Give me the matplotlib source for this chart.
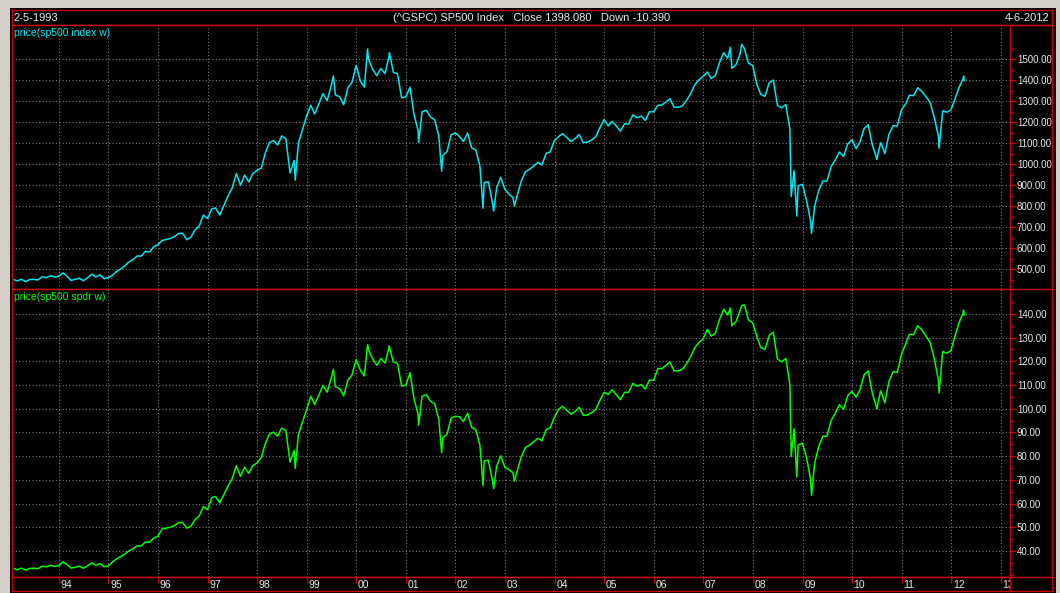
import pandas as pd
import matplotlib.pyplot as plt
import matplotlib.dates as mdates
from matplotlib.lines import Line2D
from matplotlib.patches import Rectangle
from matplotlib.ticker import FixedLocator, FormatStrFormatter

# monthly closes, Feb 1993 .. Mar 2012
spx_monthly = [
    443.38, 451.67, 440.19, 450.19, 450.53, 448.13, 463.56, 458.93, 467.83, 461.79, 466.45,
    481.61, 467.14, 445.77, 450.91, 456.50, 444.27, 458.26, 475.49, 462.69, 472.35, 453.69, 459.27,
    470.42, 487.39, 500.71, 514.71, 533.40, 544.75, 562.06, 561.88, 584.41, 581.50, 605.37, 615.93,
    636.02, 640.43, 645.50, 654.17, 669.12, 670.63, 639.95, 651.99, 687.33, 705.27, 757.02, 740.74,
    786.16, 790.82, 757.12, 801.34, 848.28, 885.14, 954.31, 899.47, 947.28, 914.62, 955.40, 970.43,
    980.28, 1049.34, 1101.75, 1111.75, 1090.82, 1133.84, 1120.67, 957.28, 1017.01, 1098.67, 1163.63, 1229.23,
    1279.64, 1238.33, 1286.37, 1335.18, 1301.84, 1372.71, 1328.72, 1320.41, 1282.71, 1362.93, 1388.91, 1469.25,
    1394.46, 1366.42, 1498.58, 1452.43, 1420.60, 1454.60, 1430.83, 1517.68, 1436.51, 1429.40, 1314.95, 1320.28,
    1366.01, 1239.94, 1160.33, 1249.46, 1255.82, 1224.38, 1211.23, 1133.58, 1040.94, 1059.78, 1139.45, 1148.08,
    1130.20, 1106.73, 1147.39, 1076.92, 1067.14, 989.82, 911.62, 916.07, 815.28, 885.76, 936.31, 879.82,
    855.70, 841.15, 848.18, 916.92, 963.59, 974.50, 990.31, 1008.01, 995.97, 1050.71, 1058.20, 1111.92,
    1131.13, 1144.94, 1126.21, 1107.30, 1120.68, 1140.84, 1101.72, 1104.24, 1114.58, 1130.20, 1173.82, 1211.92,
    1181.27, 1203.60, 1180.59, 1156.85, 1191.50, 1191.33, 1234.18, 1220.33, 1228.81, 1207.01, 1249.48, 1248.29,
    1280.08, 1280.66, 1294.83, 1310.61, 1270.09, 1270.20, 1276.66, 1303.82, 1335.85, 1377.94, 1400.63, 1418.30,
    1438.24, 1406.82, 1420.86, 1482.37, 1530.62, 1503.35, 1455.27, 1473.99, 1526.75, 1549.38, 1481.14, 1468.36,
    1378.55, 1330.63, 1322.70, 1385.59, 1400.38, 1280.00, 1267.38, 1282.83, 1166.36, 968.75, 896.24, 903.25,
    825.88, 735.09, 797.87, 872.81, 919.14, 919.32, 987.48, 1020.62, 1057.08, 1036.19, 1095.63, 1115.10,
    1073.87, 1104.49, 1169.43, 1186.69, 1089.41, 1030.71, 1101.60, 1049.33, 1141.20, 1183.26, 1180.55, 1257.64,
    1286.12, 1327.22, 1325.83, 1363.61, 1345.20, 1320.64, 1292.28, 1218.89, 1131.42, 1253.30, 1246.96, 1257.60,
    1312.41, 1365.68, 1408.47,
]
spy_monthly = [
    32.1, 32.7, 31.9, 32.6, 32.7, 32.5, 33.6, 33.3, 33.9, 33.5, 33.8,
    35.4, 34.3, 32.8, 33.1, 33.6, 32.7, 33.7, 34.9, 34.0, 34.7, 33.3, 33.8,
    35.3, 36.6, 37.6, 38.6, 40.0, 40.9, 42.2, 42.1, 43.8, 43.6, 45.4, 46.2,
    49.3, 49.6, 50.0, 50.7, 51.9, 52.0, 49.6, 50.5, 53.3, 54.7, 58.7, 57.4,
    62.5, 62.9, 60.2, 63.7, 67.4, 70.4, 75.9, 71.5, 75.3, 72.7, 76.0, 77.1,
    79.4, 85.0, 89.2, 90.1, 88.4, 91.8, 90.8, 77.5, 82.4, 89.0, 94.3, 99.6,
    105.2, 101.8, 105.7, 109.8, 107.0, 112.8, 109.2, 108.5, 105.4, 112.0, 114.2, 120.8,
    116.2, 113.8, 124.8, 121.0, 118.3, 121.2, 119.2, 126.4, 119.7, 119.1, 109.5, 110.0,
    115.2, 104.5, 97.8, 105.3, 105.9, 103.2, 102.1, 95.6, 87.8, 89.3, 96.1, 96.8,
    96.6, 94.6, 98.1, 92.1, 91.2, 84.6, 77.9, 78.3, 69.7, 75.7, 80.1, 75.2,
    74.3, 73.0, 73.6, 79.6, 83.6, 84.6, 86.0, 87.5, 86.5, 91.2, 91.9, 96.5,
    99.8, 101.0, 99.3, 97.7, 98.8, 100.6, 97.2, 97.4, 98.3, 99.7, 103.5, 106.9,
    106.0, 108.0, 105.9, 103.8, 106.9, 106.9, 110.7, 109.5, 110.2, 108.3, 112.1, 112.0,
    116.9, 116.9, 118.2, 119.7, 116.0, 116.0, 116.6, 119.0, 122.0, 125.8, 127.9, 129.5,
    133.5, 130.6, 131.9, 137.6, 142.0, 139.5, 135.0, 136.8, 141.7, 143.8, 137.4, 136.3,
    130.3, 125.7, 125.0, 130.9, 132.3, 121.0, 119.8, 121.2, 110.2, 91.5, 84.7, 85.4,
    79.4, 70.7, 76.8, 84.0, 88.4, 88.4, 95.0, 98.2, 101.7, 99.7, 105.4, 107.3,
    104.9, 107.9, 114.3, 115.9, 106.4, 100.7, 107.6, 102.5, 111.5, 115.6, 115.3, 122.9,
    127.3, 131.4, 131.3, 135.0, 133.2, 130.7, 127.9, 120.7, 112.0, 124.1, 123.4, 124.5,
    131.0, 136.3, 140.6,
]

# extra weekly points (turning points and the first/last week)
extra_dates = ['1993-02-05', '1998-10-08', '1999-07-16', '2000-03-24', '2000-09-01',
               '2001-04-04', '2001-09-21', '2002-07-23', '2002-10-09', '2003-03-11',
               '2007-07-19', '2007-10-11', '2008-10-10', '2008-11-20', '2009-03-09',
               '2010-07-02', '2011-10-04', '2012-04-02', '2012-04-06']
extra_spx = [448.9, 923.3, 1418.8, 1548.0, 1530.0, 1103.0, 965.8, 790.0, 776.0, 800.7,
             1555.9, 1571.0, 845.0, 752.4, 670.0, 1022.6, 1075.0, 1419.0, 1398.08]
extra_spy = [32.5, 74.8, 116.6, 127.0, 126.0, 93.0, 81.4, 67.5, 66.3, 69.4,
             142.5, 143.5, 79.8, 71.2, 63.5, 99.9, 106.6, 141.6, 139.5]

year_labels = ['94', '95', '96', '97', '98', '99', '00', '01', '02', '03',
               '04', '05', '06', '07', '08', '09', '10', '11', '12', '13']
spx_ticks = [500, 600, 700, 800, 900, 1000, 1100, 1200, 1300, 1400, 1500]
spy_ticks = [40, 50, 60, 70, 80, 90, 100, 110, 120, 130, 140]

months = pd.date_range('1993-02-26', periods=len(spx_monthly), freq='ME')
df = pd.DataFrame({'date': list(months) + list(pd.to_datetime(extra_dates)),
                   'spx': spx_monthly + extra_spx,
                   'spy': spy_monthly + extra_spy}).sort_values('date')

W, H = 1060, 593
RED = '#c80000'
GRID = '#7c7c7c'
TXT = '#e6e6e6'
FONT = 'Liberation Sans'


def box(x0, y0, x1, y1):
    return [x0 / W, 1 - y1 / H, (x1 - x0) / W, (y1 - y0) / H]


fig = plt.figure(figsize=(W / 100, H / 100), dpi=100, facecolor='#d4d0c8')
fig.add_artist(Rectangle((10 / W, 0), 1046 / W, 1 - 8 / H, transform=fig.transFigure,
                         facecolor='black', edgecolor='none', zorder=-5))

ax_t = fig.add_axes(box(12, 10, 1052, 25), facecolor='black')
ax1 = fig.add_axes(box(12, 25, 1010, 289), facecolor='black')
ax2 = fig.add_axes(box(12, 289, 1010, 577), facecolor='black', sharex=ax1)
axx = fig.add_axes(box(12, 577, 1010, 591), facecolor='black', sharex=ax1)

for a in (ax_t, ax1, ax2, axx):
    for s in a.spines.values():
        s.set_color(RED)
        s.set_linewidth(1)

ax_t.set_xticks([])
ax_t.set_yticks([])
ax_t.text(0.001, 0.45, '2-5-1993', transform=ax_t.transAxes, color=TXT,
          fontsize=8, family=FONT, ha='left', va='center')
ax_t.text(0.5, 0.45, '(^GSPC) SP500 Index   Close 1398.080   Down -10.390',
          transform=ax_t.transAxes, color=TXT, fontsize=8, family=FONT, ha='center', va='center')
ax_t.text(0.998, 0.45, '4-6-2012', transform=ax_t.transAxes, color=TXT,
          fontsize=8, family=FONT, ha='right', va='center')

ax1.plot(df['date'], df['spx'], color='#00e8f0', lw=1.1)
ax2.plot(df['date'], df['spy'], color='#00ff00', lw=1.1)

ax1.set_ylim(405, 1662)
ax2.set_ylim(29, 150.5)
ax1.set_xlim(pd.Timestamp('1993-01-20'), pd.Timestamp('2013-03-10'))

ax1.yaxis.set_major_locator(FixedLocator(spx_ticks))
ax1.yaxis.set_minor_locator(FixedLocator([t + 50 for t in spx_ticks] + [450]))
ax2.yaxis.set_major_locator(FixedLocator(spy_ticks))
ax2.yaxis.set_minor_locator(FixedLocator([t + 5 for t in spy_ticks] + [35, 30]))

for a in (ax1, ax2):
    a.yaxis.tick_right()
    a.yaxis.set_major_formatter(FormatStrFormatter('%.2f'))
    a.tick_params(axis='y', which='both', direction='out', color=RED, labelcolor=TXT,
                  labelsize=7.0, pad=1, length=4, width=1)
    a.tick_params(axis='y', which='minor', length=3)
    a.tick_params(axis='x', which='both', length=0, labelbottom=False)
    for lab in a.get_yticklabels():
        lab.set_family(FONT)
    a.xaxis.set_major_locator(mdates.YearLocator())
    a.grid(True, which='major', color=GRID, linestyle=(0, (1, 2)), linewidth=0.8)
    a.set_axisbelow(True)

axx.set_yticks([])
axx.tick_params(axis='x', which='both', direction='in', top=True, bottom=False,
                labelbottom=False, color=RED, length=4, width=1)
years = pd.date_range('1994-01-01', periods=len(year_labels), freq='YS')
for d, lab in zip(years, year_labels):
    axx.text(d + pd.Timedelta(days=12), 0.42, lab, color=TXT, fontsize=7.5, family=FONT,
             ha='left', va='center', transform=axx.get_xaxis_transform(), clip_on=True)

fig.text(14 / W, 1 - 33 / H, 'price(sp500 index w)', color='#00e8f0', fontsize=7.5,
         family=FONT, ha='left', va='center')
fig.text(14 / W, 1 - 297 / H, 'price(sp500 spdr w)', color='#00ff00', fontsize=7.5,
         family=FONT, ha='left', va='center')

# frame lines of the right scale area
for y in (25, 289, 577):
    fig.add_artist(Line2D([1010 / W, 1052 / W], [1 - y / H, 1 - y / H], color=RED, lw=1))
fig.add_artist(Line2D([1052 / W, 1052 / W], [1 - 10 / H, 1 - 591 / H], color=RED, lw=1))
fig.add_artist(Line2D([1010 / W, 1052 / W], [1 - 591 / H, 1 - 591 / H], color=RED, lw=1))

fig.savefig('out.png', dpi=100, facecolor=fig.get_facecolor())
